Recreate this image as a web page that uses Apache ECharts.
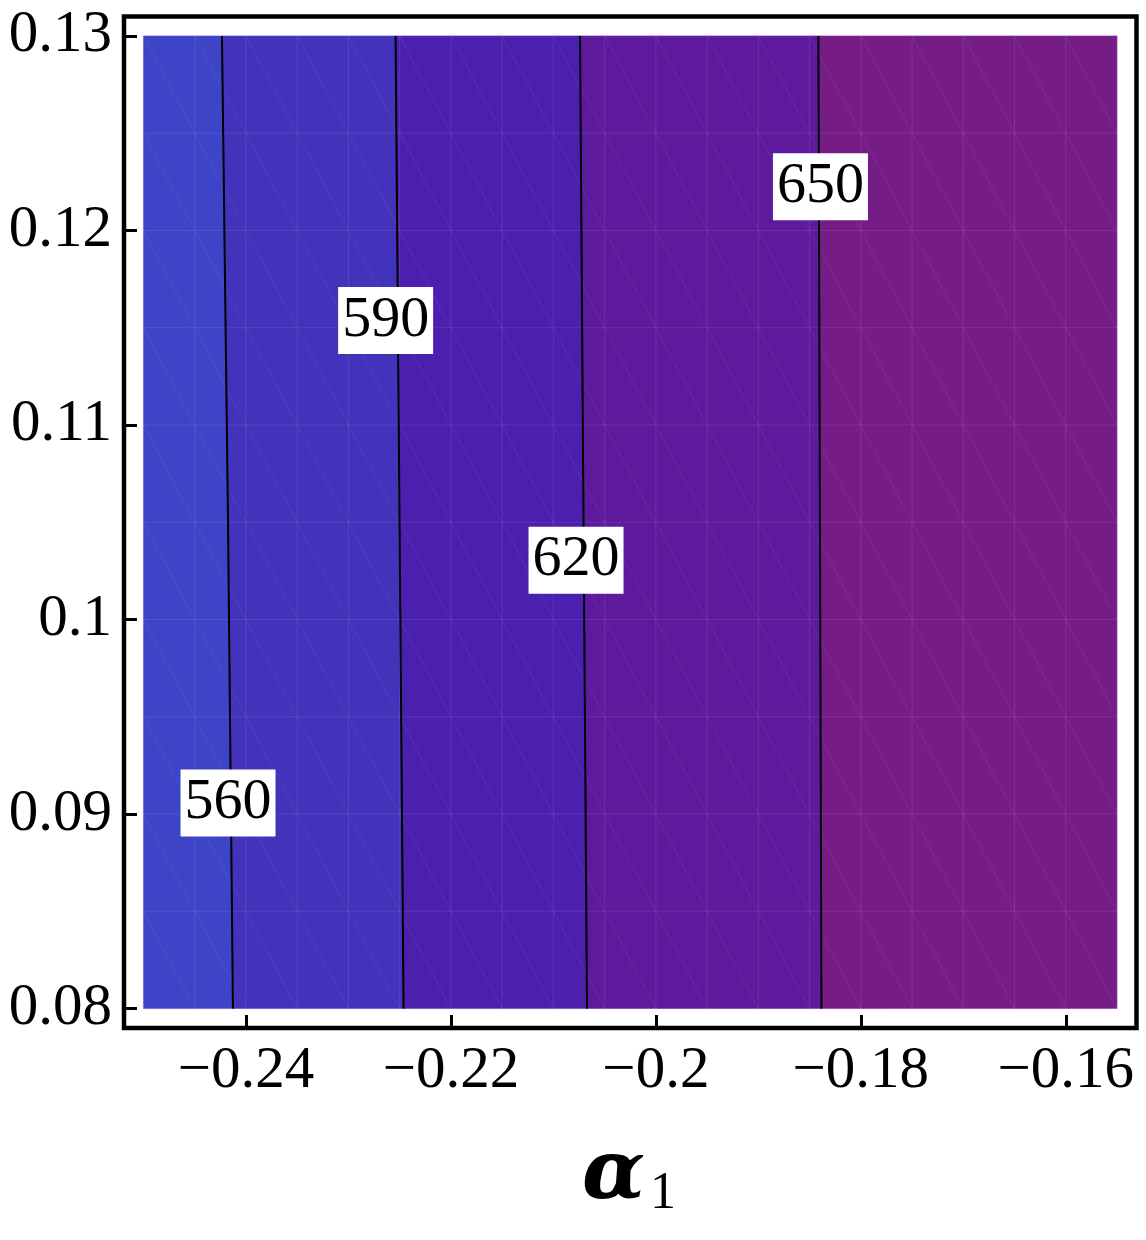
<!DOCTYPE html>
<html>
<head>
<meta charset="utf-8">
<script src="https://cdn.jsdelivr.net/npm/echarts@6/dist/echarts.min.js"></script>
<style>
  html, body { margin: 0; padding: 0; background: #fff; }
  #main { width: 1146px; height: 1240px; }
</style>
</head>
<body>
<div id="main"></div>
<script>
// plot range (data region) and the frame around it
var xLo = -0.25, xHi = -0.155;
var yLo = 0.08, yHi = 0.13;

var xTicks = [-0.24, -0.22, -0.2, -0.18, -0.16];
var yTicks = [0.08, 0.09, 0.1, 0.11, 0.12, 0.13];

// contour levels and their lines: [x, y]
var levels = [560, 590, 620, 650];
var contour560 = [[-0.24234, 0.13], [-0.24175, 0.105], [-0.24127, 0.08]];
var contour590 = [[-0.22540, 0.13], [-0.22501, 0.105], [-0.22462, 0.08]];
var contour620 = [[-0.20740, 0.13], [-0.20706, 0.105], [-0.20672, 0.08]];
var contour650 = [[-0.18414, 0.13], [-0.18399, 0.105], [-0.18384, 0.08]];
var contours = [contour560, contour590, contour620, contour650];

// where each level label sits
var labelX = [-0.24175, -0.22637, -0.20779, -0.18394];
var labelY = [0.09057, 0.11537, 0.10305, 0.12225];

// band colours, left (low) to right (high)
var bandColors = ['#3d44c7', '#4332ba', '#4c20ae', '#5d1a9d', '#761c87'];

var meshStep = 0.005;

var leftEdge = [[xLo, yHi], [xLo, yLo]];
var rightEdge = [[xHi, yHi], [xHi, yLo]];
var bounds = [leftEdge].concat(contours).concat([rightEdge]);

function fmt(v) {
  var s = String(Math.abs(+v.toFixed(3)));
  return (v < 0 ? '\u2212' : '') + s;
}

var myChart = echarts.init(document.getElementById('main'), null, { renderer: 'canvas' });

var serif = '"Liberation Serif", "DejaVu Serif", serif';

var series = [];

// filled bands between contours
series.push({
  type: 'custom',
  z: 1,
  silent: true,
  data: bandColors.map(function (c, i) { return [i]; }),
  renderItem: function (params, api) {
    var i = api.value(0);
    var a = bounds[i], b = bounds[i + 1];
    var pts = [];
    a.forEach(function (p) { pts.push(api.coord(p)); });
    b.slice().reverse().forEach(function (p) { pts.push(api.coord(p)); });
    return {
      type: 'polygon',
      shape: { points: pts },
      style: { fill: bandColors[i], stroke: bandColors[i], lineWidth: 0.6 }
    };
  }
});

// faint triangulation mesh
series.push({
  type: 'custom',
  z: 2,
  silent: true,
  data: [[0]],
  renderItem: function (params, api) {
    var children = [];
    var nx = Math.round((xHi - xLo) / meshStep);
    var ny = Math.round((yHi - yLo) / meshStep);
    var st = { stroke: 'rgba(255,255,255,0.09)', lineWidth: 1 };
    var i, j, p0, p1;
    for (i = 0; i <= nx; i++) {
      p0 = api.coord([xLo + i * meshStep, yLo]);
      p1 = api.coord([xLo + i * meshStep, yHi]);
      children.push({ type: 'line', shape: { x1: p0[0], y1: p0[1], x2: p1[0], y2: p1[1] }, style: st });
    }
    for (j = 0; j <= ny; j++) {
      p0 = api.coord([xLo, yLo + j * meshStep]);
      p1 = api.coord([xHi, yLo + j * meshStep]);
      children.push({ type: 'line', shape: { x1: p0[0], y1: p0[1], x2: p1[0], y2: p1[1] }, style: st });
    }
    for (i = 0; i < nx; i++) {
      for (j = 0; j < ny; j++) {
        p0 = api.coord([xLo + i * meshStep, yLo + (j + 1) * meshStep]);
        p1 = api.coord([xLo + (i + 1) * meshStep, yLo + j * meshStep]);
        children.push({ type: 'line', shape: { x1: p0[0], y1: p0[1], x2: p1[0], y2: p1[1] }, style: { stroke: 'rgba(255,255,255,0.07)', lineWidth: 1 } });
      }
    }
    return { type: 'group', children: children };
  }
});

// contour lines
contours.forEach(function (c, k) {
  series.push({
    type: 'line',
    name: String(levels[k]),
    z: 3,
    silent: true,
    data: c,
    showSymbol: false,
    lineStyle: { color: '#000', width: 2 },
    animation: false
  });
});

// level labels
series.push({
  type: 'scatter',
  z: 5,
  silent: true,
  symbolSize: 0,
  itemStyle: { opacity: 1 },
  data: levels.map(function (v, k) { return [labelX[k], labelY[k], v]; }),
  label: {
    show: true,
    position: 'inside',
    formatter: function (p) { return String(p.value[2]); },
    color: '#000',
    opacity: 1,
    fontFamily: serif,
    fontSize: 58,
    lineHeight: 58,
    backgroundColor: '#fff',
    padding: [5, 4, 4, 4]
  }
});

var option = {
  animation: false,
  grid: {
    left: 124, top: 16.5, right: 9.5, bottom: 212,
    show: true, borderColor: '#000', borderWidth: 4.5, backgroundColor: 'transparent'
  },
  xAxis: {
    type: 'value',
    min: xLo - 0.0019, max: xHi + 0.0019,
    axisLine: { show: false },
    splitLine: { show: false },
    axisTick: { show: true, inside: true, length: 13, customValues: xTicks, lineStyle: { color: '#000', width: 3 } },
    axisLabel: { customValues: xTicks, formatter: fmt, margin: 14, color: '#000', fontFamily: serif, fontSize: 59 }
  },
  yAxis: {
    type: 'value',
    min: yLo - 0.001, max: yHi + 0.001,
    axisLine: { show: false },
    splitLine: { show: false },
    axisTick: { show: true, inside: true, length: 13, customValues: yTicks, lineStyle: { color: '#000', width: 3 } },
    axisLabel: { customValues: yTicks, formatter: fmt, margin: 12, color: '#000', fontFamily: serif, fontSize: 59 }
  },
  graphic: [
    { type: 'text', left: 582, top: 1136, style: { text: '\u03b1', font: 'italic bold 82px "DejaVu Serif"', fill: '#000' } },
    { type: 'text', left: 650, top: 1168, style: { text: '1', font: '52px "Liberation Serif"', fill: '#000' } }
  ],
  series: series
};

option && myChart.setOption(option);
</script>
</body>
</html>
